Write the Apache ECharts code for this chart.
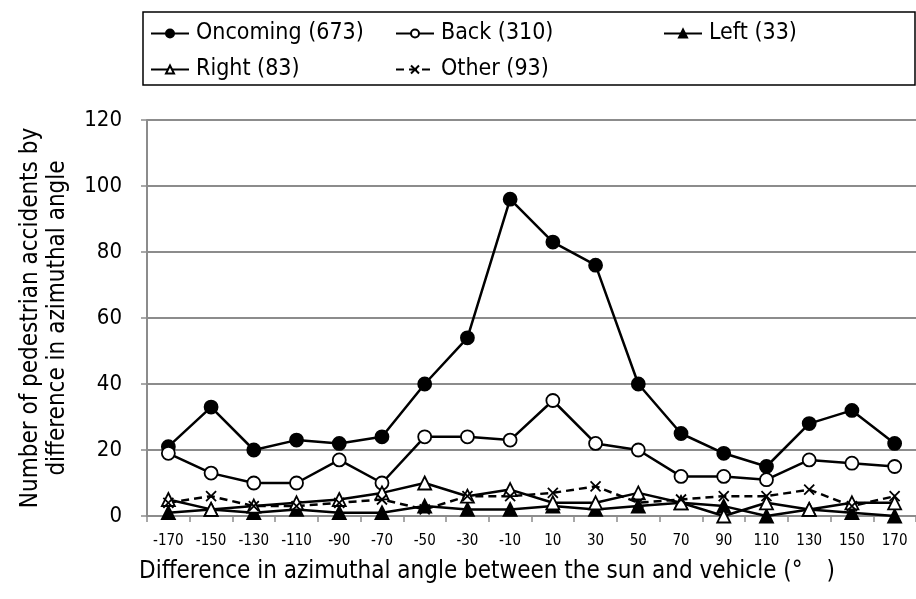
<!DOCTYPE html>
<html>
<head>
<meta charset="utf-8">
<script src="https://cdn.jsdelivr.net/npm/echarts@6/dist/echarts.min.js"></script>
<style>html,body{margin:0;padding:0;background:#fff;}#c{width:916px;height:599px;}</style>
</head>
<body>
<div id="c"></div>
<script>
var categories = ['-170','-150','-130','-110','-90','-70','-50','-30','-10','10','30','50','70','90','110','130','150','170'];
var oncoming = [21,33,20,23,22,24,40,54,96,83,76,40,25,19,15,28,32,22];
var back     = [19,13,10,10,17,10,24,24,23,35,22,20,12,12,11,17,16,15];
var left     = [1,2,1,2,1,1,3,2,2,3,2,3,4,3,0,2,1,0];
var right    = [5,2,3,4,5,7,10,6,8,4,4,7,4,0,4,2,4,4];
var other    = [4,6,3,3,4,5,2,6,6,7,9,4,5,6,6,8,3,6];
var seriesNames = ['Oncoming (673)','Back (310)','Left (33)','Right (83)','Other (93)'];
var yTicks = [0,20,40,60,80,100,120];
var xTitle = 'Difference in azimuthal angle between the sun and vehicle (\u00b0\u3000)';
var yTitle = 'Number of pedestrian accidents by\ndifference in azimuthal angle';

var FONT = "'DejaVu Sans Condensed','Liberation Sans Narrow','Liberation Sans',sans-serif";
var chart = echarts.init(document.getElementById('c'), null, {renderer:'canvas'});
var xPath = 'path://M0,0L10,10M10,0L0,10';

function mk(name, data, symbol, fill, dashed, size){
  return {
    name: name, type: 'line', data: data, symbol: symbol, symbolSize: size,
    showAllSymbol: true,
    lineStyle: {color:'#000', width: 2.5, type: dashed ? [8,5] : 'solid'},
    itemStyle: {color: fill, borderColor: '#000', borderWidth: 1.8},
    emphasis: {disabled: true},
    z: 3
  };
}
function lg(name, l, t){
  return {
    data:[name], left:l, top:t, itemWidth:38, itemHeight:10, itemGap:0,
    textStyle:{fontFamily:FONT, fontSize:23, color:'#000', padding:[0,0,0,2]},
    selectedMode:false, padding:0
  };
}
var option = {
  animation:false,
  backgroundColor:'#fff',
  graphic:[
    {type:'rect', shape:{x:143, y:12, width:772, height:73}, style:{fill:'none', stroke:'#000', lineWidth:1.5}, z:0},
    {type:'text', x:487, y:572, style:{text:xTitle, font:"24px "+FONT, fill:'#000', align:'center', verticalAlign:'middle'}}
  ],
  legend:[
    lg(seriesNames[0],150,22), lg(seriesNames[1],395,22), lg(seriesNames[2],663,22),
    lg(seriesNames[3],150,58), lg(seriesNames[4],395,58)
  ],
  grid:{left:147, top:120, width:776, height:396, containLabel:false},
  xAxis:{
    type:'category', data:categories, boundaryGap:true,
    axisLine:{lineStyle:{color:'#8c8c8c', width:2}},
    axisTick:{show:true, alignWithLabel:false, length:6, lineStyle:{color:'#8c8c8c', width:1.5}},
    axisLabel:{interval:0, fontFamily:FONT, fontSize:15, color:'#000', margin:18}
  },
  yAxis:{
    type:'value', min:0, max:120, interval:20,
    axisLine:{show:true, lineStyle:{color:'#8c8c8c', width:2}},
    axisTick:{show:true, length:6, lineStyle:{color:'#8c8c8c', width:1.5}},
    splitLine:{show:true, lineStyle:{color:'#8c8c8c', width:2}},
    axisLabel:{fontFamily:FONT, fontSize:22, color:'#000', margin:25,
      formatter:function(v){ return yTicks.indexOf(v) >= 0 ? String(v) : ''; }},
    name:yTitle,
    nameLocation:'middle', nameGap:76, nameRotate:90,
    nameTextStyle:{fontFamily:FONT, fontSize:24, color:'#000', lineHeight:27, align:'center'}
  },
  series:[
    mk(seriesNames[0], oncoming, 'circle', '#000', false, 13),
    mk(seriesNames[1], back, 'circle', '#fff', false, 13),
    mk(seriesNames[2], left, 'triangle', '#000', false, 13),
    mk(seriesNames[3], right, 'triangle', '#fff', false, 13),
    mk(seriesNames[4], other, xPath, '#000', true, 10)
  ]
};
chart.setOption(option);
</script>
</body>
</html>
